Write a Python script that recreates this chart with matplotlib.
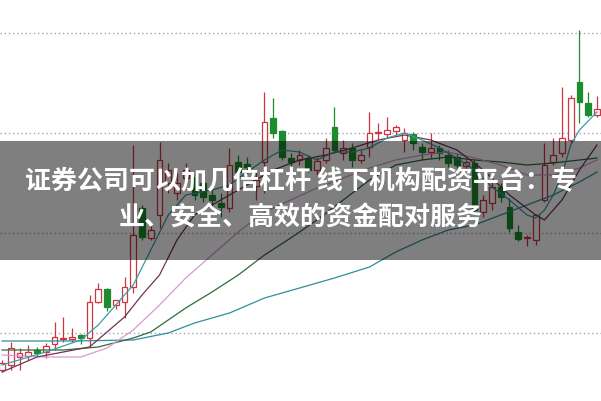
# coding=utf-8
"""Candlestick chart with moving averages and a caption banner."""
import matplotlib
matplotlib.use('Agg')
import matplotlib.pyplot as plt
from matplotlib.patches import Rectangle

plt.rcParams['font.family'] = ['Noto Sans CJK SC', 'DejaVu Sans']

# Daily prices
opens = [6.3, 6.8, 7.6, 7.7, 8.3, 8.1, 8.9, 9.4, 9.4, 9.8,
         9.5, 13.1, 14.4, 12.8, 13.1, 14.6, 22.5, 19.5, 21.8, 25.0,
         24.0, 25.5, 25.6, 25.0, 23.8, 23.0, 22.5, 27.1, 26.9, 24.7,
         27.1, 31.5, 30.2, 27.5, 27.3, 27.5, 26.3, 27.3, 30.6, 28.0,
         28.5, 27.3, 28.6, 30.0, 29.9, 30.2, 29.3, 29.9, 28.6, 28.1,
         28.5, 27.8, 27.6, 26.7, 27.0, 22.1, 23.0, 24.6, 22.6, 20.1,
         19.45, 19.3, 23.3, 27.1, 28.0, 29.3, 35.1, 33.0, 31.8]
highs = [7.3, 9.1, 8.5, 8.8, 8.6, 9.0, 11.1, 11.6, 10.5, 9.9,
         13.8, 15.0, 14.5, 13.3, 15.6, 28.8, 22.8, 20.8, 29.1, 27.0,
         26.0, 27.0, 26.3, 25.5, 25.0, 24.0, 28.5, 27.8, 27.6, 26.3,
         34.1, 33.5, 30.3, 28.0, 28.3, 27.8, 27.6, 29.5, 32.6, 29.3,
         29.0, 28.3, 32.1, 31.0, 31.6, 30.8, 30.5, 30.1, 29.0, 30.0,
         28.8, 28.3, 28.0, 27.3, 27.3, 23.8, 25.1, 25.0, 23.5, 20.8,
         19.8, 21.9, 29.0, 29.5, 34.6, 33.8, 40.3, 34.1, 33.7]
lows = [6.1, 6.3, 6.3, 7.3, 7.7, 7.5, 8.3, 9.1, 9.1, 8.9,
        8.6, 13.0, 12.2, 12.4, 11.5, 14.0, 19.3, 19.3, 20.5, 24.0,
        23.3, 24.8, 23.3, 23.1, 22.6, 21.6, 22.1, 25.1, 26.0, 23.3,
        24.0, 29.5, 27.3, 26.6, 26.8, 26.1, 25.8, 27.0, 28.0, 27.3,
        26.6, 27.0, 27.6, 29.3, 29.5, 29.8, 28.1, 28.3, 27.3, 27.5,
        27.3, 26.6, 26.5, 26.5, 22.1, 21.6, 22.3, 23.1, 20.1, 19.2,
        18.7, 18.8, 23.1, 26.8, 27.6, 29.0, 31.0, 31.6, 31.6]
closes = [7.0, 8.5, 8.0, 8.1, 8.0, 8.7, 9.6, 9.5, 9.6, 9.5,
          13.1, 14.4, 12.6, 13.3, 14.6, 19.8, 19.6, 20.3, 27.3, 26.3,
          25.0, 26.3, 23.8, 23.6, 23.3, 22.6, 26.8, 26.1, 26.6, 25.3,
          31.1, 30.0, 27.6, 27.1, 27.8, 26.3, 27.2, 28.5, 28.3, 28.5,
          27.3, 27.8, 30.0, 30.1, 30.3, 30.6, 30.0, 29.0, 28.1, 28.5,
          28.0, 27.0, 26.8, 27.1, 22.3, 23.3, 24.6, 23.6, 20.5, 19.4,
          19.55, 21.8, 26.8, 27.8, 29.5, 33.5, 33.1, 31.8, 32.4]

# Moving average lines, sampled at candle indices
ma5_idx = [0, 5, 9, 11, 13, 15, 17, 19, 21, 24, 26, 28, 30, 32, 34, 36, 38,
           40, 42, 44, 46, 48, 50, 52, 54, 56, 58, 60, 61, 62, 63, 64, 65, 66, 68]
ma5_val = [6.8, 8.1, 9.3, 10.8, 12.8, 14.8, 18.3, 21.8, 23.8, 24.3, 24.8,
           26.1, 27.3, 28.3, 28.1, 27.3, 28.1, 28.1, 28.5, 29.5, 30.0, 29.3,
           28.5, 27.5, 26.3, 24.6, 23.3, 21.8, 21.5, 22.3, 23.8, 25.8, 28.8,
           30.3, 32.1]
ma10_idx = [0, 4, 10, 14, 16, 18, 20, 22, 25, 28, 31, 34, 37, 40, 43, 46,
            49, 52, 55, 58, 61, 62, 64, 66, 68]
ma10_val = [6.1, 7.6, 8.6, 11.6, 13.8, 15.8, 19.3, 21.8, 23.3, 24.8, 26.3,
            27.3, 27.8, 28.5, 29.3, 29.8, 29.3, 28.3, 26.3, 23.8, 21.8, 21.3,
            23.3, 26.3, 28.8]
ma20_idx = [0, 5, 9, 12, 15, 18, 21, 24, 27, 30, 33, 36, 39, 42, 45, 48,
            51, 54, 57, 60, 63, 66, 68]
ma20_val = [7.8, 7.6, 7.6, 8.5, 10.3, 12.8, 15.5, 17.8, 20.1, 22.1, 23.3,
            24.5, 25.5, 26.5, 27.3, 27.8, 28.1, 27.5, 26.8, 25.8, 25.8, 26.5,
            27.3]
ma30_idx = [0, 7, 11, 15, 17, 21, 24, 27, 30, 33, 36, 39, 42, 45, 48, 51,
            54, 57, 60, 63, 66, 68]
ma30_val = [8.3, 8.3, 8.6, 9.5, 10.1, 12.5, 14.1, 15.8, 17.8, 19.5, 21.3,
            23.3, 25.3, 26.8, 27.3, 27.6, 27.3, 27.1, 26.8, 27.0, 27.3, 27.5]
ma60_idx = [0, 8, 15, 19, 22, 26, 30, 34, 38, 42, 45, 48, 51, 54, 57, 60,
            63, 66, 68]
ma60_val = [9.2, 9.2, 9.3, 10.0, 11.0, 12.0, 13.5, 14.5, 15.5, 16.6, 18.1,
            19.3, 20.3, 20.8, 21.8, 22.8, 23.8, 25.1, 26.1]

grid_levels = [10, 20, 30, 40]

title_lines = ['证券公司可以加几倍杠杆 线下机构配资平台：专',
               '业、安全、高效的资金配对服务']

RED = '#cf3440'
GREEN = '#1c8c2c'

fig = plt.figure(figsize=(6.01, 4.01), dpi=100)
ax = fig.add_axes([0, 0, 1, 1])
ax.set_xlim(-0.23, 68.46)
ax.set_ylim(3.2, 43.3)
ax.axis('off')

for level in grid_levels:
    ax.axhline(level, color='#a5a5a5', linestyle=(0, (1, 2)), linewidth=1.0, zorder=1)

# candles
width = 0.66
for i, (o, h, l, c) in enumerate(zip(opens, highs, lows, closes)):
    up = c >= o
    color = RED if up else GREEN
    ax.vlines(i, l, h, color=color, linewidth=0.9, zorder=2)
    bottom = min(o, c)
    height = max(abs(c - o), 0.08)
    if up:
        ax.bar(i, height, width, bottom=bottom, facecolor='white',
               edgecolor=color, linewidth=0.9, zorder=3)
    else:
        ax.bar(i, height, width, bottom=bottom, facecolor=color,
               edgecolor=color, linewidth=0.9, zorder=3)

# moving averages
ax.plot(ma60_idx, ma60_val, color='#2f8f9c', linewidth=0.9, zorder=4)
ax.plot(ma30_idx, ma30_val, color='#2d6b3a', linewidth=0.9, zorder=4)
ax.plot(ma20_idx, ma20_val, color='#d79ad6', linewidth=0.9, zorder=4)
ax.plot(ma10_idx, ma10_val, color='#6e3552', linewidth=0.9, zorder=4)
ax.plot(ma5_idx, ma5_val, color='#3a9ea6', linewidth=0.9, zorder=4)

# caption banner
banner = Rectangle((0, 141 / 401), 1, 119 / 401, transform=fig.transFigure,
                   facecolor='black', alpha=0.5, zorder=10)
fig.patches.append(banner)
fig.text(0.5, 1 - 182 / 401, title_lines[0], color='white', fontsize=18.7,
         fontweight='bold', ha='center', va='center', zorder=11)
fig.text(0.5, 1 - 218 / 401, title_lines[1], color='white', fontsize=18.7,
         fontweight='bold', ha='center', va='center', zorder=11)

fig.savefig('out.png', dpi=100)
